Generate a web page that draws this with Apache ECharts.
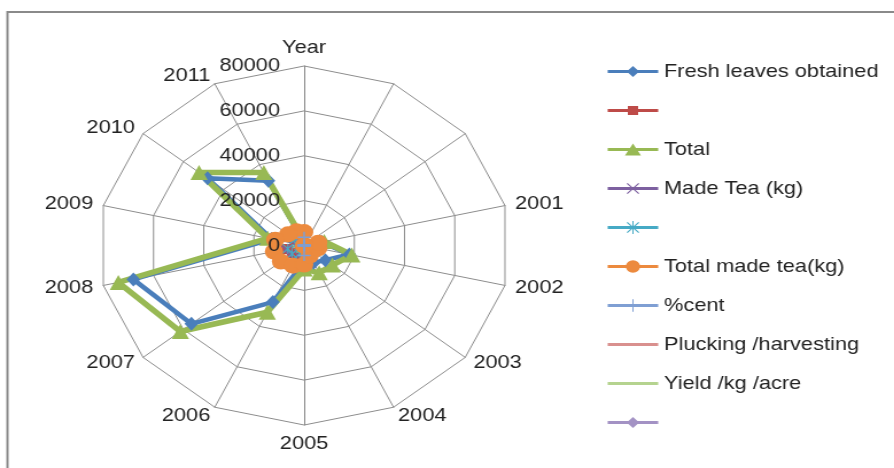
<!DOCTYPE html>
<html>
<head>
<meta charset="utf-8">
<script src="https://cdn.jsdelivr.net/npm/echarts@6/dist/echarts.min.js"></script>
<style>
  html, body { margin: 0; padding: 0; background: #fff; overflow: hidden; }
  #wrap { position: absolute; left: 0; top: 0; width: 894px; height: 468px; overflow: hidden; }
  /* the sheet chart is drawn a little wider than tall */
  #chart { width: 779px; height: 468px; transform: scaleX(1.1477); transform-origin: 0 0; }
</style>
</head>
<body>
<div id="wrap"><div id="chart"></div></div>
<script>
// Radar categories, clockwise from the top
const categories = ['Year', '', '', '2001', '2002', '2003', '2004', '2005', '2006', '2007', '2008', '2009', '2010', '2011'];

// Series values (kg), one per category
const freshLeaves   = [1500, 0, 0, 7000, 18000, 10500, 8500, 7500, 28000, 56000, 68000, 13000, 48000, 32000];
const extraLeaves   = [5500, 0, 0, 1000, 1000, 3500, 5000, 3000, 5000, 5500, 7000, 1500, 4200, 4100];
const totalLeaves   = [2000, 0, 0, 8000, 19000, 14000, 13500, 10500, 33000, 61500, 74000, 14500, 52200, 36100];
const madeTea       = [3000, 0, 0, 2500, 3000, 2000, 2000, 3000, 5000, 7000, 7500, 4000, 5000, 4000];
const madeTeaExtra  = [2500, 0, 0, 2000, 2500, 1500, 1500, 2500, 4000, 6000, 6500, 3000, 4500, 3000];
const totalMadeTea  = [6000, 0, 0, 5600, 5600, 4000, 5000, 8500, 10000, 11500, 12000, 11500, 8000, 7000];
const percentCent   = [3700, 0, 0, 0, 0, 0, 0, 4500, 0, 0, 0, 0, 0, 0];
const plucking      = [800, 800, 800, 800, 800, 800, 800, 800, 800, 800, 800, 800, 800, 800];
const yieldPerAcre  = [0, 0, 0, 3900, 3900, 0, 0, 0, 0, 0, 3900, 3900, 0, 0];
const lastSeries    = [];

// Radial axis ticks
const axisMax = 80000;
const axisSplits = 4;

const seriesNames = ['Fresh leaves obtained', ' ', 'Total', 'Made Tea (kg)', '  ',
  'Total made tea(kg)', '%cent', 'Plucking /harvesting', 'Yield /kg /acre', '   '];
const seriesValues = [freshLeaves, extraLeaves, totalLeaves, madeTea, madeTeaExtra,
  totalMadeTea, percentCent, plucking, yieldPerAcre, lastSeries];

const colors = ['#4A7EBB', '#BE4B48', '#98B954', '#7D60A0', '#46AAC5',
  '#EC8A3E', '#7F9FD3', '#D9908E', '#B5D38F', '#A392C4'];

// ECharts lays radar axes out counter-clockwise, so keep the first
// category on top and walk the rest backwards to run them clockwise.
const order = [0].concat(categories.map((_, i) => i).slice(1).reverse());
const inOrder = arr => order.map(k => arr[k]);

// marker shapes
const X_PATH = 'path://M0 1L1 0L12 11L11 12Z M11 0L12 1L1 12L0 11Z';
const STAR_PATH = 'path://M0 1L1 0L12 11L11 12Z M11 0L12 1L1 12L0 11Z M5.4 0H6.6V12H5.4Z';
const PLUS_PATH = 'path://M5.2 0H6.8V12H5.2Z M0 5.2H12V6.8H0Z';
const markers = [
  { symbol: 'diamond', size: [12, 14] },
  { symbol: 'rect', size: 10 },
  { symbol: 'triangle', size: [15, 15] },
  { symbol: X_PATH, size: 10 },
  { symbol: STAR_PATH, size: 10 },
  { symbol: 'circle', size: 16 },
  { symbol: PLUS_PATH, size: 11 },
  { symbol: 'none', size: 0 },
  { symbol: 'none', size: 0 },
  { symbol: 'diamond', size: 11 }
];
const lineWidths = [4.5, 4, 5.5, 4, 4, 4, 3.5, 4, 5, 4];

// legend icons: a short line with the marker in its middle (44 x 14 box)
const BOX = 'M0 0H0.01V0.01H0Z M43.99 13.99H44V14H43.99Z ';
const BAR = 'M0 5.6H44V8.4H0Z ';
const iconMarks = [
  'M22 1.5L27.5 7L22 12.5L16.5 7Z',
  'M17.5 2.5H26.5V11.5H17.5Z',
  'M22 1L29 13H15Z',
  'M16.5 2.2L17.3 1.4L27.5 11.8L26.7 12.6Z M26.7 1.4L27.5 2.2L17.3 12.6L16.5 11.8Z',
  'M16.5 2.2L17.3 1.4L27.5 11.8L26.7 12.6Z M26.7 1.4L27.5 2.2L17.3 12.6L16.5 11.8Z M21.5 0.5H22.5V13.5H21.5Z',
  'M22 0.8A6.2 6.2 0 1 1 21.99 0.8Z',
  'M21.5 0.8H22.5V13.2H21.5Z',
  '',
  '',
  'M22 1.5L27.5 7L22 12.5L16.5 7Z'
];

const FONT = 'Liberation Sans';
const CENTER = [265, 245.5];
const RADIUS = 179.5;

const indicators = inOrder(categories).map(c => ({ name: c, min: 0, max: axisMax }));
// value labels only on the top axis, kept on a radar drawn above the series
const labelIndicators = indicators.map((ind, i) => {
  const o = { name: '', min: 0, max: axisMax };
  if (i === 0) {
    o.axisLabel = {
      show: true, margin: 21, color: '#222', fontFamily: FONT, fontSize: 19,
      formatter: v => String(v)
    };
  }
  return o;
});

const option = {
  animation: false,
  color: colors,
  graphic: [{
    type: 'rect',
    shape: { x: 6.5, y: 12, width: 900, height: 600 },
    style: { fill: 'none', stroke: '#8a8a8a', lineWidth: 2 },
    silent: true
  }],
  legend: {
    orient: 'vertical',
    left: 524.5,
    top: 57,
    itemWidth: 44,
    itemHeight: 14,
    itemGap: 20,
    selectedMode: false,
    textStyle: { fontFamily: FONT, fontSize: 19, color: '#222' },
    data: seriesNames.map((n, i) => ({
      name: n,
      icon: 'path://' + BOX + BAR + iconMarks[i],
      itemStyle: { color: colors[i], borderWidth: 0 }
    }))
  },
  radar: [{
    center: CENTER,
    radius: RADIUS,
    startAngle: 90,
    shape: 'polygon',
    splitNumber: axisSplits,
    nameGap: 9,
    axisName: { color: '#222', fontFamily: FONT, fontSize: 19 },
    axisLine: { lineStyle: { color: '#8c8c8c', width: 1 } },
    splitLine: { lineStyle: { color: '#8c8c8c', width: 1 } },
    splitArea: { show: false },
    axisTick: { show: false },
    axisLabel: { show: false },
    indicator: indicators
  }, {
    z: 10,
    silent: true,
    center: CENTER,
    radius: RADIUS,
    startAngle: 90,
    shape: 'polygon',
    splitNumber: axisSplits,
    axisName: { show: false },
    axisLine: { show: false },
    splitLine: { show: false },
    splitArea: { show: false },
    axisTick: { show: false },
    axisLabel: { show: false },
    indicator: labelIndicators
  }],
  series: seriesNames.map((n, i) => ({
    type: 'radar',
    radarIndex: 0,
    name: n,
    silent: true,
    symbol: markers[i].symbol,
    symbolSize: markers[i].size,
    lineStyle: { color: colors[i], width: lineWidths[i] },
    itemStyle: { color: colors[i], borderWidth: 0 },
    data: seriesValues[i].length ? [{
      name: n,
      value: inOrder(seriesValues[i]),
      lineStyle: { color: colors[i], width: lineWidths[i] }
    }] : []
  }))
};

const chart = echarts.init(document.getElementById('chart'), null, { renderer: 'canvas' });
chart.setOption(option);
</script>
</body>
</html>
